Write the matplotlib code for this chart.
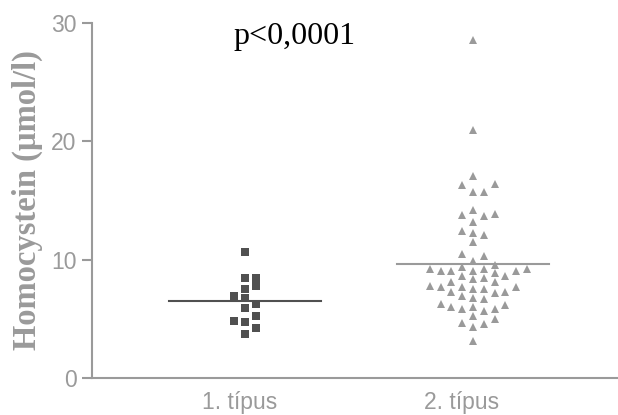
import numpy as np
import matplotlib.pyplot as plt

# Homocystein values (µmol/l)
group_labels = ["1. típus", "2. típus"]

type1 = [10.68, 8.48, 8.48, 7.78, 7.55, 6.93, 6.79, 6.25, 5.94, 5.27,
         4.82, 4.71, 4.20, 3.72]

type2 = [28.57, 20.96, 17.08, 16.40, 16.31, 15.75, 15.75, 14.20, 13.86,
         13.78, 13.69, 13.21, 12.43, 12.28, 12.09, 11.52, 10.45, 10.34,
         9.92, 9.55, 9.41, 9.21, 9.21, 9.21, 9.07, 9.07, 9.07, 9.07,
         8.85, 8.62, 8.62, 8.43, 8.37, 8.09, 8.09, 7.80, 7.72, 7.72,
         7.72, 7.52, 7.50, 7.30, 7.24, 7.21, 6.93, 6.79, 6.65, 6.23,
         6.17, 6.03, 6.03, 5.81, 5.81, 5.66, 5.24, 4.96, 4.68, 4.54,
         4.34, 3.13]

yticks = [0, 10, 20, 30]
p_text = "p<0,0001"

gray = "#9a9a9a"


def swarm(values, step, min_gap):
    # simple column beeswarm: 0, +1, -1, +2, -2, ...
    cols = {}
    order = np.argsort(values)
    offsets = np.zeros(len(values))
    for i in order:
        v = values[i]
        k = 0
        done = False
        while not done:
            for c in ([0] if k == 0 else [k, -k]):
                if all(abs(v - w) >= min_gap for w in cols.get(c, [])):
                    cols.setdefault(c, []).append(v)
                    offsets[i] = c * step
                    done = True
                    break
            k += 1
    return offsets


fig = plt.figure(figsize=(6.18, 4.15), dpi=100)
ax = fig.add_axes([92 / 618, 37 / 415, 526 / 618, 355 / 415])

step = 0.0474
for pos, vals, marker, color in [(1, type1, "s", "#505050"),
                                  (2, type2, "^", gray)]:
    vals = np.array(vals)
    xs = pos + swarm(vals, step, 0.68)
    ax.plot(xs, vals, marker, color=color, markersize=6.4,
            markeredgewidth=0, clip_on=False)
    m = vals.mean()
    ax.plot([pos - 0.335, pos + 0.335], [m, m], color=color, lw=1.5)

ax.set_xlim(0.329, 2.636)
ax.set_ylim(0, 30)
ax.set_yticks(yticks)
# labels sit a little left of the group centres in the original
ax.set_xticks([1 - 0.022, 2 - 0.048])
ax.set_xticklabels(group_labels)

for side in ["top", "right"]:
    ax.spines[side].set_visible(False)
for side in ["left", "bottom"]:
    ax.spines[side].set_color(gray)
    ax.spines[side].set_linewidth(1.5)

ax.tick_params(axis="y", colors=gray, labelsize=16.5, length=7.5, width=1.5,
               pad=3.5)
ax.tick_params(axis="x", colors=gray, labelsize=16.5, length=0, pad=9)
for lab in ax.get_xticklabels() + ax.get_yticklabels():
    lab.set_family("Liberation Sans")

ax.set_ylabel("Homocystein (µmol/l)", family="Liberation Serif",
              fontweight="bold", fontsize=23.5, color=gray, labelpad=6)

ax.text(0.95, 28.9, p_text, family="Liberation Serif", fontsize=23,
        ha="left", va="center", color="black")

fig.savefig("out.png", dpi=100)
